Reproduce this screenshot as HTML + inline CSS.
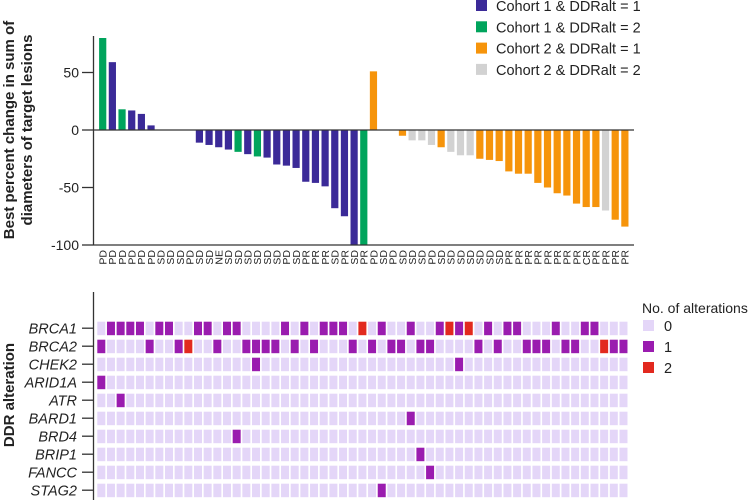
<!DOCTYPE html>
<html><head><meta charset="utf-8"><style>
body{margin:0;background:#fff;}
svg{display:block;font-family:"Liberation Sans",sans-serif;}
</style></head><body>
<svg id="c" width="750" height="502"></svg>
<script>
const responses=["PD","PD","PD","PD","PD","PD","SD","SD","SD","PD","SD","SD","NE","SD","SD","SD","SD","SD","SD","PD","SD","PR","PR","PR","SD","PR","SD","PR","PD","SD","PD","SD","SD","SD","PD","SD","SD","SD","SD","SD","SD","SD","PR","PR","PR","PR","PR","PR","PR","PR","CR","PR","PR","PR","PR"];
const changes=[80,59,18,17,14,4,0,0,0,0,-11,-13,-15,-17,-19,-21,-23,-24,-30,-31,-33,-45,-46,-49,-68,-75,-100,-100,51,0,0,-5,-9,-9,-13,-15,-19,-22,-22,-25,-26,-27,-36,-38,-38,-46,-50,-55,-57,-64,-67,-67,-70,-78,-84];
const groups=[1,0,1,0,0,0,0,0,0,0,0,0,0,0,1,0,1,0,0,0,0,0,0,0,0,0,0,1,2,2,2,2,3,3,3,2,3,3,3,2,2,2,2,2,2,2,2,2,2,2,2,2,3,2,2];
const groupLabels=["Cohort 1 & DDRalt = 1","Cohort 1 & DDRalt = 2","Cohort 2 & DDRalt = 1","Cohort 2 & DDRalt = 2"];
const yTicks=[50,0,-50,-100];
const genes=["BRCA1","BRCA2","CHEK2","ARID1A","ATR","BARD1","BRD4","BRIP1","FANCC","STAG2"];
const alt1={BRCA1:[1,2,3,4,6,7,10,11,13,14,19,21,23,24,25,29,32,35,37,40,42,43,47,50,51],
BRCA2:[0,5,8,12,15,16,17,18,20,22,26,28,30,31,33,34,39,41,44,45,46,48,49,53,54],
CHEK2:[16,37],ARID1A:[0],ATR:[2],BARD1:[32],BRD4:[14],BRIP1:[33],FANCC:[34],STAG2:[29]};
const alt2={BRCA1:[27,36,38],BRCA2:[9,52]};
const altLevels=["0","1","2"];

const NS="http://www.w3.org/2000/svg";
const svg=document.getElementById('c');
function mk(t,a,p){const e=document.createElementNS(NS,t);for(const k in a)e.setAttribute(k,a[k]);(p||svg).appendChild(e);return e;}
const gcol=["#3b2a98","#00a45c","#f6940b","#d2d2d2"];
const hcol=["#e4d6f8","#9a1caf","#e2291f"];
const x0=102.7, dx=9.67;
const xc=i=>x0+i*dx;
const y=v=>130-v*1.15;

let l=mk('line',{x1:93.5,y1:36,x2:93.5,y2:245,stroke:'#333','stroke-width':1.3});

yTicks.forEach(v=>{
 let t=mk('line',{x1:82,y1:y(v),x2:93.5,y2:y(v),stroke:'#333','stroke-width':1.3});
 
 let tx=mk('text',{x:79,y:y(v)+5,'text-anchor':'end','font-size':14,fill:'#222'});tx.textContent=v;
 
});
let yt=mk('text',{transform:'translate(14,130) rotate(-90)','text-anchor':'middle','font-size':15,'font-weight':'bold',fill:'#222'});

let ts1=mk('tspan',{x:0,y:0},yt);ts1.textContent="Best percent change in sum of";
let ts2=mk('tspan',{x:0,y:18},yt);ts2.textContent="diameters of target lesions";

changes.forEach((v,i)=>{
 if(v!==0){
  let r=mk('rect',{x:xc(i)-3.6,y:Math.min(y(v),y(0)),width:7.2,height:Math.abs(y(v)-y(0)),fill:gcol[groups[i]]});
  
 }
 let tx=mk('text',{transform:`translate(${xc(i)+3.8},250) rotate(-90)`,'text-anchor':'end','font-size':10.5,fill:'#222'});
 tx.textContent=responses[i];
 
});
let z=mk('line',{x1:93.5,y1:130,x2:634,y2:130,stroke:'#333','stroke-width':1.3});

let b=mk('line',{x1:93.5,y1:245,x2:634,y2:245,stroke:'#333','stroke-width':1.3});


groupLabels.forEach((g,k)=>{
 let r=mk('rect',{x:476,y:k*21.3,width:11,height:11,fill:gcol[k]});
 
 let tx=mk('text',{x:496,y:k*21.3+11,'font-size':14.5,fill:'#222'});tx.textContent=g;
 
});

let ha=mk('line',{x1:93.5,y1:292,x2:93.5,y2:500,stroke:'#333','stroke-width':1.3});

genes.forEach((g,r)=>{
 const yy=321.7+r*18;
 let t=mk('line',{x1:82,y1:yy+6.5,x2:93.5,y2:yy+6.5,stroke:'#333','stroke-width':1.3});
 
 let tx=mk('text',{x:77,y:yy+12,'text-anchor':'end','font-size':14.5,'font-style':'italic',fill:'#222'});tx.textContent=g;
 
 for(let i=0;i<changes.length;i++){
  let lv=(alt2[g]||[]).includes(i)?2:((alt1[g]||[]).includes(i)?1:0);
  let c=mk('rect',{x:xc(i)-5.4,y:yy,width:8,height:13.5,fill:hcol[lv]});
  
 }
});
let ht=mk('text',{transform:'translate(14,395) rotate(-90)','text-anchor':'middle','font-size':15,'font-weight':'bold',fill:'#222'});
ht.textContent="DDR alteration";

let lt=mk('text',{x:642,y:313,'font-size':14,fill:'#222'});lt.textContent="No. of alterations";

altLevels.forEach((s,k)=>{
 let r=mk('rect',{x:643,y:320+k*21,width:11,height:11,fill:hcol[k]});
 
 let tx=mk('text',{x:664,y:331+k*21,'font-size':14.5,fill:'#222'});tx.textContent=s;
 
});
</script>
</body></html>
